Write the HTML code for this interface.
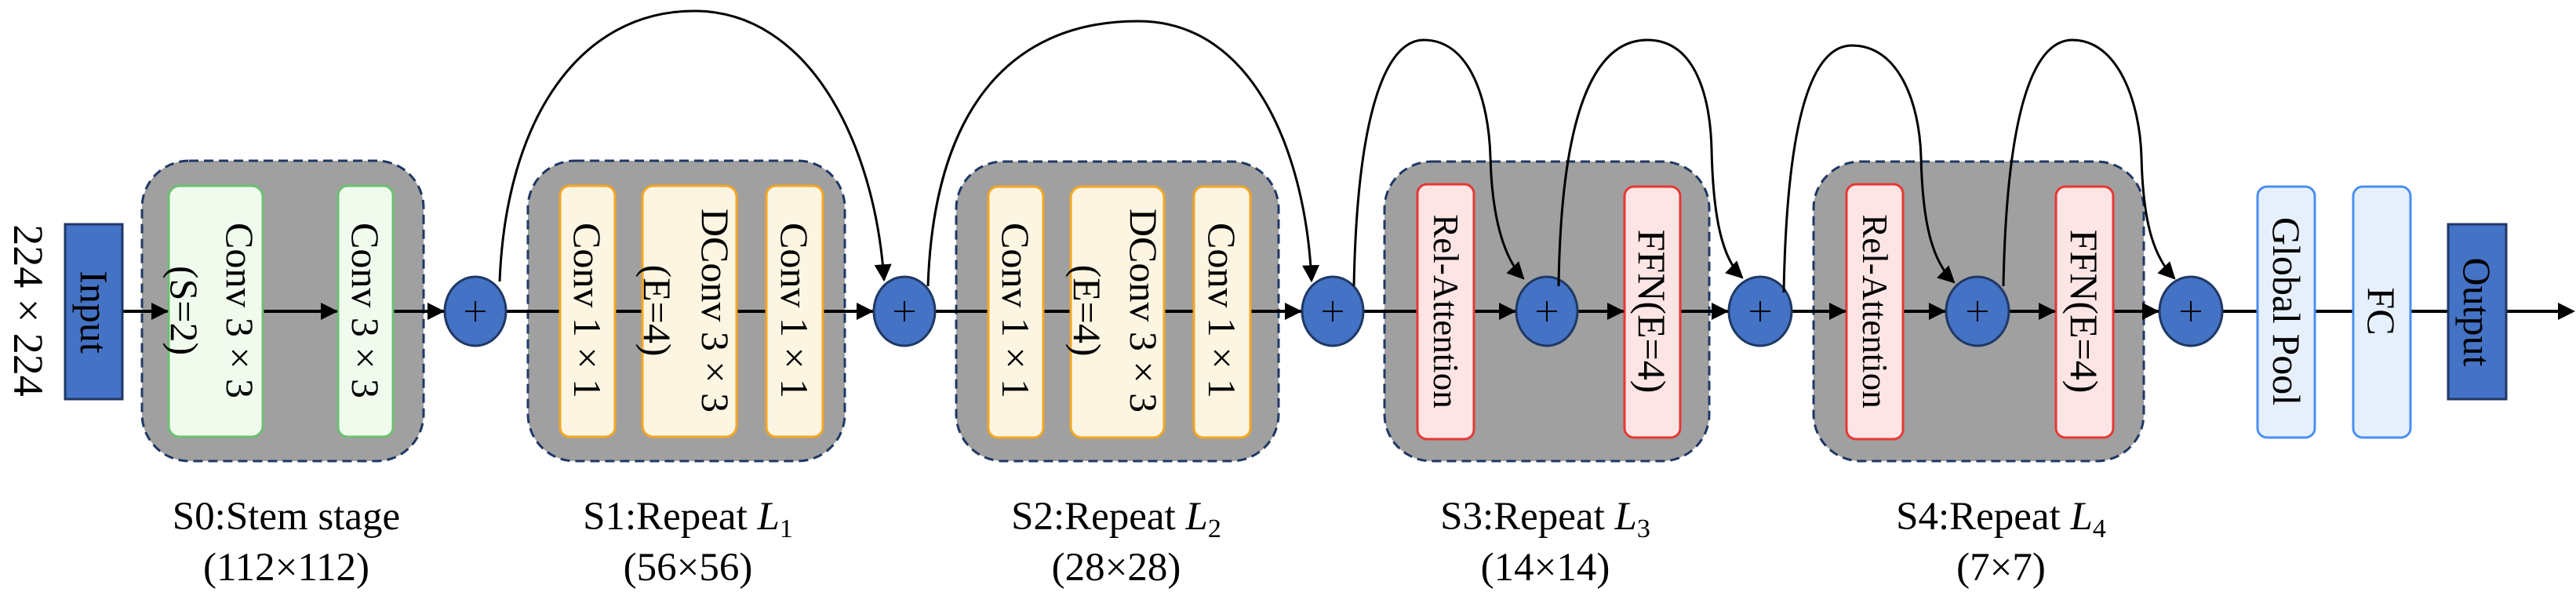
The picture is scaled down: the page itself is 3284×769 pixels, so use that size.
<!DOCTYPE html>
<html><head><meta charset="utf-8"><style>
html,body{margin:0;padding:0;background:#fff;}
svg{display:block;}
text{font-family:"Liberation Serif",serif;fill:#000;}
</style></head><body>
<svg width="3284" height="769" viewBox="0 0 3284 769" xmlns="http://www.w3.org/2000/svg">
<defs>
<marker id="ah2" viewBox="0 0 10 10" refX="9" refY="5" markerWidth="22" markerHeight="22" orient="auto" markerUnits="userSpaceOnUse">
<path d="M0,0 L10,5 L0,10 z" fill="#000"/>
</marker>
</defs>

<g fill="#a0a0a0" stroke="#1f3864" stroke-width="3" stroke-dasharray="12 7">
<rect x="181" y="205" width="359" height="383" rx="60"/>
<rect x="673" y="205" width="404" height="383" rx="60"/>
<rect x="1219" y="206" width="411" height="382" rx="60"/>
<rect x="1765" y="206" width="414" height="382" rx="60"/>
<rect x="2312" y="206" width="421" height="382" rx="60"/>
</g>

<line x1="156" y1="397" x2="3265" y2="397" stroke="#000" stroke-width="4"/>

<rect x="83" y="286" width="73" height="223" fill="#4472c4" stroke="#1f3864" stroke-width="3"/>
<rect x="3121" y="286" width="74" height="223" fill="#4472c4" stroke="#1f3864" stroke-width="3"/>
<text transform="translate(120,398) rotate(90)" text-anchor="middle" dominant-baseline="central" font-size="50">Input</text>
<text transform="translate(3158,398) rotate(90)" text-anchor="middle" dominant-baseline="central" font-size="50">Output</text>
<text transform="translate(36,396) rotate(90)" text-anchor="middle" dominant-baseline="central" font-size="54">224 × 224</text>

<g stroke-width="3">
<rect x="215" y="237" width="120" height="320" rx="14" fill="#f0fbee" stroke="#6cc070"/>
<rect x="431" y="237" width="70" height="320" rx="12" fill="#f0fbee" stroke="#6cc070"/>
<rect x="714" y="237" width="70" height="320" rx="12" fill="#fcf5e2" stroke="#f5a623"/>
<rect x="819" y="237" width="120" height="320" rx="14" fill="#fcf5e2" stroke="#f5a623"/>
<rect x="977" y="237" width="72" height="320" rx="12" fill="#fcf5e2" stroke="#f5a623"/>
<rect x="1260" y="238" width="70" height="320" rx="12" fill="#fcf5e2" stroke="#f5a623"/>
<rect x="1365" y="238" width="119" height="320" rx="14" fill="#fcf5e2" stroke="#f5a623"/>
<rect x="1522" y="238" width="72" height="320" rx="12" fill="#fcf5e2" stroke="#f5a623"/>
<rect x="1807" y="235" width="72" height="325" rx="12" fill="#fde5e5" stroke="#e53935"/>
<rect x="2071" y="238" width="71" height="320" rx="12" fill="#fde5e5" stroke="#e53935"/>
<rect x="2354" y="235" width="72" height="325" rx="12" fill="#fde5e5" stroke="#e53935"/>
<rect x="2621" y="238" width="73" height="320" rx="12" fill="#fde5e5" stroke="#e53935"/>
<rect x="2878" y="238" width="73" height="320" rx="12" fill="#e6f0fd" stroke="#4a8ff0"/>
<rect x="3000" y="238" width="73" height="320" rx="12" fill="#e6f0fd" stroke="#4a8ff0"/>
</g>

<g font-size="50" text-anchor="middle" dominant-baseline="central">
<text transform="translate(306,396) rotate(90)">Conv 3 × 3</text>
<text transform="translate(235,396) rotate(90)">(S=2)</text>
<text transform="translate(466,396) rotate(90)">Conv 3 × 3</text>
<text transform="translate(749,396) rotate(90)">Conv 1 × 1</text>
<text transform="translate(912,396) rotate(90)">DConv 3 × 3</text>
<text transform="translate(838,396) rotate(90)">(E=4)</text>
<text transform="translate(1013,396) rotate(90)">Conv 1 × 1</text>
<text transform="translate(1295,396) rotate(90)">Conv 1 × 1</text>
<text transform="translate(1458,396) rotate(90)">DConv 3 × 3</text>
<text transform="translate(1386,396) rotate(90)">(E=4)</text>
<text transform="translate(1558,396) rotate(90)">Conv 1 × 1</text>
<text transform="translate(1843,397) rotate(90)" font-size="45">Rel-Attention</text>
<text transform="translate(2106,397) rotate(90)">FFN(E=4)</text>
<text transform="translate(2390,397) rotate(90)" font-size="45">Rel-Attention</text>
<text transform="translate(2657,397) rotate(90)">FFN(E=4)</text>
<text transform="translate(2915,397) rotate(90)">Global Pool</text>
<text transform="translate(3036,397) rotate(90)">FC</text>
</g>

<g fill="#4472c4" stroke="#1f3864" stroke-width="3">
<ellipse cx="606" cy="397" rx="39" ry="44"/>
<ellipse cx="1153" cy="397" rx="39" ry="44"/>
<ellipse cx="1699" cy="397" rx="39" ry="44"/>
<ellipse cx="1972" cy="397" rx="39" ry="44"/>
<ellipse cx="2244" cy="397" rx="40" ry="44"/>
<ellipse cx="2521" cy="397" rx="40" ry="44"/>
<ellipse cx="2793" cy="397" rx="40" ry="44"/>
</g>
<g stroke="#000" stroke-width="2">
<path d="M593,397h26M606,384v26"/>
<path d="M1140,397h26M1153,384v26"/>
<path d="M1686,397h26M1699,384v26"/>
<path d="M1959,397h26M1972,384v26"/>
<path d="M2231,397h26M2244,384v26"/>
<path d="M2508,397h26M2521,384v26"/>
<path d="M2780,397h26M2793,384v26"/>
</g>

<g fill="#000">
<path d="M215,397 l-22,-11 v22 z"/>
<path d="M431,397 l-22,-11 v22 z"/>
<path d="M567,397 l-22,-11 v22 z"/>
<path d="M1114,397 l-22,-11 v22 z"/>
<path d="M1660,397 l-22,-11 v22 z"/>
<path d="M1933,397 l-22,-11 v22 z"/>
<path d="M2071,397 l-22,-11 v22 z"/>
<path d="M2204,397 l-22,-11 v22 z"/>
<path d="M2354,397 l-22,-11 v22 z"/>
<path d="M2481,397 l-22,-11 v22 z"/>
<path d="M2621,397 l-22,-11 v22 z"/>
<path d="M2753,397 l-22,-11 v22 z"/>
<path d="M3283,397 l-22,-11 v22 z"/>
</g>

<g fill="none" stroke="#000" stroke-width="3" marker-end="url(#ah2)">
<path d="M637,359 C645,150 740,14 885,14 C1030,14 1115,180 1127,357"/>
<path d="M1183,365 C1190,150 1280,27 1451,27 C1600,27 1665,200 1672,358"/>
<path d="M1726,365 C1730,150 1765,51 1815,51 C1875,51 1898,130 1900,200 C1902,280 1918,330 1942,355"/>
<path d="M1987,365 C1990,150 2030,51 2100,51 C2160,51 2180,120 2182,190 C2184,280 2196,330 2221,354"/>
<path d="M2274,373 C2278,150 2310,58 2361,58 C2420,58 2447,130 2449,200 C2451,290 2465,335 2491,360"/>
<path d="M2554,365 C2558,150 2590,51 2642,51 C2700,51 2728,130 2730,200 C2732,290 2748,330 2772,355"/>
</g>

<g font-size="51" text-anchor="middle">
<text x="365" y="675">S0:Stem stage</text>
<text x="365" y="740">(112×112)</text>
<text x="877" y="675">S1:Repeat <tspan font-style="italic">L</tspan><tspan font-size="34" dy="10">1</tspan></text>
<text x="877" y="740">(56×56)</text>
<text x="1423" y="675">S2:Repeat <tspan font-style="italic">L</tspan><tspan font-size="34" dy="10">2</tspan></text>
<text x="1423" y="740">(28×28)</text>
<text x="1970" y="675">S3:Repeat <tspan font-style="italic">L</tspan><tspan font-size="34" dy="10">3</tspan></text>
<text x="1970" y="740">(14×14)</text>
<text x="2551" y="675">S4:Repeat <tspan font-style="italic">L</tspan><tspan font-size="34" dy="10">4</tspan></text>
<text x="2551" y="740">(7×7)</text>
</g>
</svg>
</body></html>
